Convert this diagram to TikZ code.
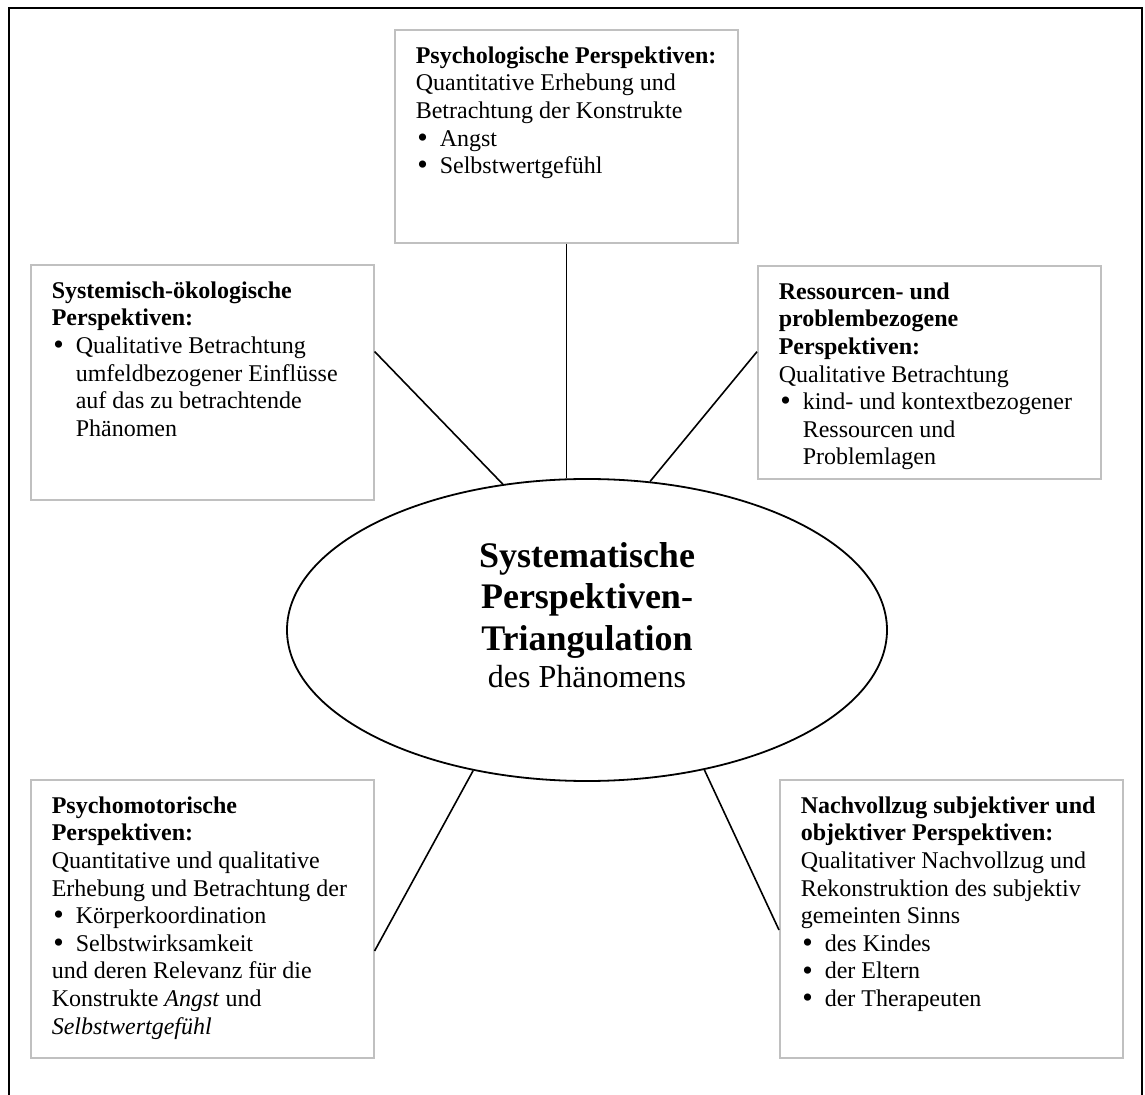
\documentclass[tikz,border=0pt]{standalone}
\usepackage{fontspec}
\setmainfont{Liberation Serif}
\usetikzlibrary{shapes.geometric,calc}
\definecolor{Ink}{HTML}{000000}
\definecolor{CardLine}{HTML}{C0C0C0}
\tikzset{
  card/.style={draw=CardLine,line width=.8pt,anchor=north west,inner xsep=10.5pt,inner ysep=8.4pt,font=\fontsize{12}{13.8}\selectfont},
  hub/.style={ellipse,draw=Ink,line width=.9pt,minimum width=300pt,minimum height=151pt,inner sep=0pt},
  hubtext/.style={align=center,inner sep=0pt,anchor=north,font=\fontsize{18}{20.7}\selectfont\bfseries},
  spoke/.style={draw=Ink,line width=.8pt},
  outline/.style={draw=Ink,line width=1pt}
}
\newcommand{\cardbody}[2]{\parbox[t][#1][t]{150.5pt}{\raggedright #2}}
\newcommand{\bpoint}[1]{\par\hangindent=12pt\hangafter=1\noindent\makebox[12pt][l]{\hspace{.8pt}\raisebox{-.6pt}{\scalebox{1.25}{\textbullet}}}#1}

\begin{document}
\begin{tikzpicture}[x=.5pt,y=-.5pt]
  \useasboundingbox (0,0) rectangle (1145,1095);
  \draw[outline] (8.5,1095) -- (8.5,8) -- (1141.5,8) -- (1141.5,1095);

  % centre
  \node[hub] (core) at (587,630) {};
  \node[hubtext] (title) at (587,542) {Systematische\\Perspektiven-\\Triangulation\\[-2.2pt]{\fontsize{16}{18.4}\selectfont\mdseries des Phänomens}};

  % perspectives
  \node[card] (psy) at (394,29) {\cardbody{89.7pt}{\textbf{Psychologische Perspektiven:}\newline Quantitative Erhebung und\newline Betrachtung der Konstrukte\bpoint{Angst}\bpoint{Selbstwertgefühl}}};
  \node[card] (sys) at (30,264) {\cardbody{100.7pt}{\textbf{Systemisch-ökologische}\newline\textbf{Perspektiven:}\bpoint{Qualitative Betrachtung\newline umfeldbezogener Einflüsse\newline auf das zu betrachtende\newline Phänomen}}};
  \node[card] (res) at (757,265) {\cardbody{89.7pt}{\textbf{Ressourcen- und}\newline\textbf{problembezogene}\newline\textbf{Perspektiven:}\newline Qualitative Betrachtung\bpoint{kind- und kontextbezogener\newline Ressourcen und\newline Problemlagen}}};
  \node[card] (mot) at (30,779) {\cardbody{122.2pt}{\textbf{Psychomotorische}\newline\textbf{Perspektiven:}\newline Quantitative und qualitative\newline Erhebung und Betrachtung der\bpoint{Körperkoordination}\bpoint{Selbstwirksamkeit}\par\noindent und deren Relevanz für die\newline Konstrukte \textit{Angst} und\newline\textit{Selbstwertgefühl}}};
  \node[card] (sub) at (779,779) {\cardbody{122.2pt}{\textbf{Nachvollzug subjektiver und}\newline\textbf{objektiver Perspektiven:}\newline Qualitativer Nachvollzug und\newline Rekonstruktion des subjektiv\newline gemeinten Sinns\bpoint{des Kindes}\bpoint{der Eltern}\bpoint{der Therapeuten}}};

  \draw[spoke] (psy.south) -- (psy.south |- core.north);
  \draw[spoke] ($(sys.north east)!.37!(sys.south east)$) -- (core.120);
  \draw[spoke] ($(res.north west)!.404!(res.south west)$) -- (core.67);
  \draw[spoke] ($(mot.north east)!.615!(mot.south east)$) -- (core.231);
  \draw[spoke] ($(sub.north west)!.54!(sub.south west)$) -- (core.310);
\end{tikzpicture}
\end{document}
